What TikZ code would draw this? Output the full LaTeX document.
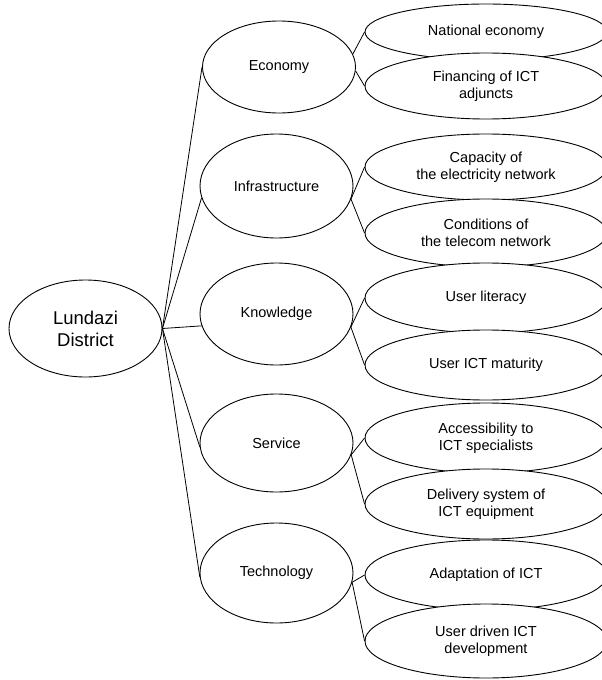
\documentclass[tikz,border=0pt]{standalone}
\usepackage{fontspec}
\setmainfont{Liberation Sans}
\usetikzlibrary{shapes.geometric}

\begin{document}
\begin{tikzpicture}[x=1pt,y=-1pt,
  oval/.style={draw, ellipse, inner sep=0pt, line width=0.9pt, align=center,
               font=\fontsize{14.5}{17}\selectfont},
  root/.style={oval, minimum width=153pt, minimum height=97pt,
               font=\fontsize{18.5}{22}\selectfont},
  cat/.style={oval, fill=white, minimum width=153pt},
  leaf/.style={oval, fill=white, minimum width=242pt},
  link/.style={line width=0.8pt}]
\useasboundingbox (0,0) rectangle (602,680);
\clip (0,0) rectangle (602,680);

% root
\node[root] (lund) at (85.5,328.5) {Lundazi\\District};

% categories
\node[cat, minimum height=92pt]  (eco) at (279,67)    {Economy};
\node[cat, minimum height=104pt] (inf) at (276.5,186) {Infrastructure};
\node[cat, minimum height=102pt] (kno) at (276.5,314) {Knowledge};
\node[cat, minimum height=98pt]  (ser) at (276.5,443) {Service};
\node[cat, minimum height=100pt] (tec) at (276.5,573) {Technology};

% factors, stacked so each lower one covers the one above
\node[leaf, minimum height=56pt] (natec) at (486,32)  {National economy};
\node[leaf, minimum height=66pt] (finan) at (486,86)  {Financing of ICT\\adjuncts};
\node[leaf, minimum height=66pt] (capac) at (486,167) {Capacity of\\the electricity network};
\node[leaf, minimum height=68pt] (condi) at (486,233) {Conditions of\\the telecom network};
\node[leaf, minimum height=70pt] (liter) at (486,298) {User literacy};
\node[leaf, minimum height=70pt] (matur) at (486,365) {User ICT maturity};
\node[leaf, minimum height=70pt] (acces) at (486,438) {Accessibility to\\ICT specialists};
\node[leaf, minimum height=70pt] (deliv) at (486,504) {Delivery system of\\ICT equipment};
\node[leaf, minimum height=70pt] (adapt) at (486,575) {Adaptation of ICT};
\node[leaf, minimum height=74pt] (drive) at (486,641) {User driven ICT\\development};

% root to categories
\draw[link] (lund.east) -- (eco.west);
\draw[link] (lund.east) -- (inf.189);
\draw[link] (lund.east) -- (kno.189);
\draw[link] (lund.east) -- (ser.183);
\draw[link] (lund.east) -- (tec.183);

% categories to factors
\draw[link] (eco.10)  -- (natec.west);
\draw[link] (eco.-3)  -- (finan.west);
\draw[link] (inf.-10) -- (capac.west);
\draw[link] (inf.-10) -- (condi.west);
\draw[link] (kno.-10) -- (liter.west);
\draw[link] (kno.-10) -- (matur.west);
\draw[link] (ser.-9)  -- (acces.west);
\draw[link] (ser.-9)  -- (deliv.west);
\draw[link] (tec.-7)  -- (adapt.west);
\draw[link] (tec.-7)  -- (drive.west);
\end{tikzpicture}
\end{document}
